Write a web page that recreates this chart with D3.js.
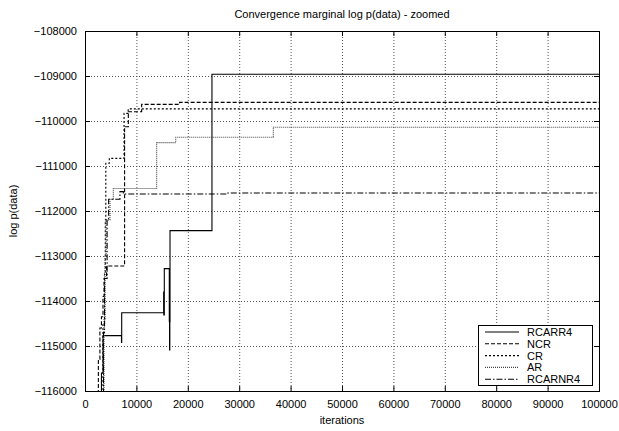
<!DOCTYPE html>
<html>
<head>
<meta charset="utf-8">
<script src="https://cdn.jsdelivr.net/npm/d3@7"></script>
<style>
  body { margin: 0; background: #fff; }
  svg text { font-family: "Liberation Sans", Arial, sans-serif; font-size: 11px; fill: #000; }
</style>
</head>
<body>
<div id="chart"></div>
<script>
// chart values: [iterations, log p(data)], step-after
const title = 'Convergence marginal log p(data) - zoomed';
const xTicks = [0, 10000, 20000, 30000, 40000, 50000, 60000, 70000, 80000, 90000, 100000];
const yTicks = [-116000, -115000, -114000, -113000, -112000, -111000, -110000, -109000, -108000];
const seriesNames = ['RCARR4', 'NCR', 'CR', 'AR', 'RCARNR4'];

const rcarr4 = [
    [3000, -116300], [3200, -115600], [3500, -114770], [7100, -114920], [7140, -114260],
    [15300, -113800], [15330, -114310], [15430, -113280], [16400, -114450], [16450, -115090],
    [16500, -114460], [16540, -112437], [24700, -108960], [100000, -108960],
];
const ncr = [
    [2300, -116300], [2600, -115300], [2900, -114600], [3200, -114350], [3500, -113900],
    [3700, -113500], [4200, -113222], [7700, -110127], [8430, -109793], [11020, -109630],
    [18400, -109585], [100000, -109585],
];
const cr = [
    [3200, -116300], [3500, -114500], [3800, -113400], [3950, -112200], [4050, -110940],
    [4730, -110830], [7600, -109830], [8400, -109730], [100000, -109730],
];
const ar = [
    [3400, -116300], [3700, -114400], [3900, -113000], [4100, -112200], [4860, -111740],
    [5510, -111500], [13940, -110480], [17650, -110362], [36640, -110140], [100000, -110140],
];
const rcarnr4 = [
    [3300, -116300], [3600, -114700], [3800, -113500], [4300, -112200], [4600, -111740],
    [6800, -111570], [7460, -111622], [27500, -111600], [100000, -111600],
];

const seriesData = [rcarr4, ncr, cr, ar, rcarnr4];
const dashes = [null, '4,2', '2,2', '1,1', '6,2,1.5,2'];
const strokes = ['#000', '#000', '#000', '#444', '#000'];

const width = 619;
const height = 431;
const margin = { top: 31, right: 20, bottom: 40, left: 85 };
const innerW = width - margin.left - margin.right;
const innerH = height - margin.top - margin.bottom;

const svg = d3.select('#chart')
    .append('svg')
    .attr('width', width)
    .attr('height', height);

const x = d3.scaleLinear().domain([0, 100000]).range([0, innerW]);
const y = d3.scaleLinear().domain([-116000, -108000]).range([innerH, 0]);

const g = svg.append('g')
    .attr('transform', `translate(${margin.left},${margin.top})`);

svg.append('defs').append('clipPath')
    .attr('id', 'plot-clip')
    .append('rect')
    .attr('width', innerW)
    .attr('height', innerH);

// grid
g.append('g')
    .selectAll('line')
    .data(xTicks.slice(1, -1))
    .join('line')
    .attr('x1', d => x(d) + 0.5)
    .attr('x2', d => x(d) + 0.5)
    .attr('y1', 0)
    .attr('y2', innerH)
    .attr('stroke', '#555')
    .attr('stroke-dasharray', '1,2');

g.append('g')
    .selectAll('line')
    .data(yTicks.slice(1, -1))
    .join('line')
    .attr('x1', 0)
    .attr('x2', innerW)
    .attr('y1', d => y(d) + 0.5)
    .attr('y2', d => y(d) + 0.5)
    .attr('stroke', '#555')
    .attr('stroke-dasharray', '1,2');

// axes
const xAxis = g.append('g')
    .attr('transform', `translate(0,${innerH})`)
    .call(d3.axisBottom(x).tickValues(xTicks).tickSize(-5).tickPadding(9).tickFormat(d3.format('d')));
const yAxis = g.append('g')
    .call(d3.axisLeft(y).tickValues(yTicks).tickSize(-5).tickPadding(8).tickFormat(d3.format('d')));
g.append('g')
    .call(d3.axisTop(x).tickValues(xTicks).tickSize(-5).tickFormat(''));
g.append('g')
    .attr('transform', `translate(${innerW},0)`)
    .call(d3.axisRight(y).tickValues(yTicks).tickSize(-5).tickFormat(''));

g.selectAll('.domain').remove();
g.selectAll('.tick line').attr('stroke', '#000');
xAxis.selectAll('text').style('font-size', '11px');
yAxis.selectAll('text').style('font-size', '11px');

g.append('rect')
    .attr('x', 0.5)
    .attr('y', 0.5)
    .attr('width', innerW)
    .attr('height', innerH)
    .attr('fill', 'none')
    .attr('stroke', '#000');

// series
const line = d3.line()
    .x(d => x(d[0]))
    .y(d => y(d[1]))
    .curve(d3.curveStepAfter);

const lines = g.append('g').attr('clip-path', 'url(#plot-clip)');
seriesData.forEach((data, i) => {
    lines.append('path')
        .datum(data)
        .attr('d', line)
        .attr('fill', 'none')
        .attr('stroke', strokes[i])
        .attr('stroke-width', 1.1)
        .attr('stroke-dasharray', dashes[i]);
});

// titles
svg.append('text')
    .attr('x', margin.left + innerW / 2)
    .attr('y', 18)
    .attr('text-anchor', 'middle')
    .text(title);

svg.append('text')
    .attr('x', margin.left + innerW / 2)
    .attr('y', 424)
    .attr('text-anchor', 'middle')
    .text('iterations');

svg.append('text')
    .attr('transform', `translate(17,${margin.top + innerH / 2}) rotate(-90)`)
    .attr('text-anchor', 'middle')
    .text('log p(data)');

// legend
const legend = svg.append('g')
    .attr('transform', 'translate(478,325)');

legend.append('rect')
    .attr('x', 0.5)
    .attr('y', 0.5)
    .attr('width', 114)
    .attr('height', 60)
    .attr('fill', '#fff')
    .attr('stroke', '#000');

seriesNames.forEach((name, i) => {
    const row = 7 + i * 11.8;
    legend.append('line')
        .attr('x1', 7)
        .attr('x2', 41)
        .attr('y1', row)
        .attr('y2', row)
        .attr('stroke', strokes[i])
        .attr('stroke-width', 1.1)
        .attr('stroke-dasharray', dashes[i]);
    legend.append('text')
        .attr('x', 49)
        .attr('y', row + 4)
        .text(name);
});
</script>
</body>
</html>
